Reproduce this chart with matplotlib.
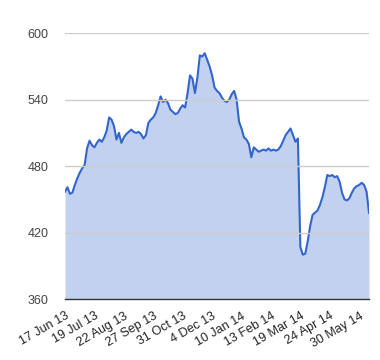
import matplotlib.pyplot as plt
import numpy as np

plt.rcParams['font.family'] = ['Liberation Sans', 'DejaVu Sans']

# values, roughly every second trading day
price = [
    457, 461, 455, 456, 463, 469, 474, 478, 481, 496,
    503, 499, 497, 501, 504, 502, 506, 512, 524, 522,
    516, 504, 510, 501, 506, 509, 511, 513, 511, 510,
    511, 509, 505, 508, 519, 522, 524, 528, 535, 543,
    538, 540, 537, 531, 529, 527, 528, 532, 535, 533,
    546, 562, 559, 546, 560, 580, 579, 582, 576, 570,
    562, 551, 548, 546, 542, 539, 538, 540, 545, 548,
    540, 520, 514, 506, 504, 500, 488, 497, 495, 493,
    494, 495, 494, 496, 494, 495, 494, 495, 498, 503,
    508, 511, 514, 508, 502, 505, 407, 400, 401, 412,
    426, 436, 438, 440, 445, 452, 461, 472, 471, 472,
    470, 471, 466, 456, 450, 449, 451, 456, 460, 462,
    463, 465, 463, 457, 438,
]
date_labels = ['17 Jun 13', '19 Jul 13', '22 Aug 13', '27 Sep 13', '31 Oct 13',
               '4 Dec 13', '10 Jan 14', '13 Feb 14', '19 Mar 14', '24 Apr 14',
               '30 May 14']
y_ticks = [360, 420, 480, 540, 600]

x = np.arange(len(price))
tick_pos = np.arange(len(date_labels)) * 12

fig = plt.figure(figsize=(3.8, 3.6), dpi=100)
ax = fig.add_axes([65 / 380, 61 / 360, 304 / 380, 265.7 / 360])

ax.fill_between(x, 360, price, color='#c2d1f0', lw=0)
ax.plot(x, price, color='#3366cc', lw=1.5)

ax.set_xlim(0, len(price) - 1)
ax.set_ylim(360, 600)
ax.set_yticks(y_ticks)
ax.yaxis.grid(True, color='#cccccc', lw=1)
ax.set_axisbelow(False)
ax.tick_params(axis='y', length=0, pad=12, labelsize=9, labelcolor='#444444')

ax.set_xticks(tick_pos)
ax.set_xticklabels(date_labels, rotation=30, ha='right', rotation_mode='anchor',
                   fontsize=9, color='#222222')
ax.tick_params(axis='x', length=0, pad=8)

for s in ['top', 'right', 'left']:
    ax.spines[s].set_visible(False)
ax.spines['bottom'].set_color('#333333')
ax.spines['bottom'].set_linewidth(1)
ax.spines['bottom'].set_zorder(5)

fig.savefig('out.png', dpi=100)
